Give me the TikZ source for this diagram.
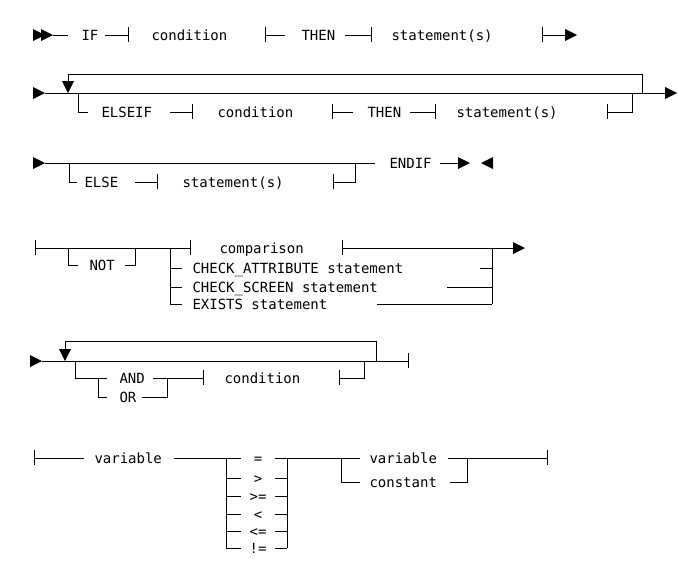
\documentclass[tikz,border=0pt]{standalone}
\usepackage{fontspec}
\newfontfamily\railfont{DejaVu Sans Mono}

\begin{document}
\begin{tikzpicture}[
  x=0.5pt, y=-0.5pt, line width=0.5pt,
  word/.style={anchor=base west, inner sep=0pt, font=\railfont\fontsize{7}{8}\selectfont},
  op/.style={word, anchor=base},
  rtip/.pic={\fill (0,-6) -- (12,0) -- (0,6) -- cycle;},
  ltip/.pic={\fill (0,-6) -- (-12,0) -- (0,6) -- cycle;},
  dtip/.pic={\fill (-6,-12) -- (0,0) -- (6,-12) -- cycle;},
  bar/.pic={\draw (0,-8) -- (0,7);}
]
\useasboundingbox (0,0) rectangle (679,568);

% IF ... THEN
\pic at (33,35) {rtip};
\pic at (41,35) {rtip};
\draw (53,35) -- (68,35);
\node[word] (if) at (81,40) {IF};
\draw (105,35) -- (128,35); \pic at (128,35) {bar};
\node[word] (cond1) at (151,40) {condition};
\pic at (265,35) {bar}; \draw (265,35) -- (285,35);
\node[word] (then1) at (301,40) {THEN};
\draw (345,35) -- (371,35); \pic at (371,35) {bar};
\node[word] (stmt1) at (391,40) {statement(s)};
\pic at (542,35) {bar}; \draw (542,35) -- (565,35);
\pic at (565,35) {rtip};

% ELSEIF loop
\pic at (33,93) {rtip};
\draw (45,93) -- (665,93);
\pic at (665,93) {rtip};
\draw (642,93) -- (642,74) -- (68,74) -- (68,82);
\pic at (68,93) {dtip};
\draw (78,93) -- (78,112) -- (88,112);
\node[word] (elseif) at (101,117) {ELSEIF};
\draw (170,112) -- (192,112); \pic at (192,112) {bar};
\node[word] (cond2) at (217,117) {condition};
\pic at (332,112) {bar}; \draw (332,112) -- (353,112);
\node[word] (then2) at (367,117) {THEN};
\draw (410,112) -- (435,112); \pic at (435,112) {bar};
\node[word] (stmt2) at (456,117) {statement(s)};
\pic at (607,112) {bar}; \draw (607,112) -- (632,112) -- (632,93);

% ELSE / ENDIF
\pic at (33,163) {rtip};
\draw (45,163) -- (375,163);
\draw (69,163) -- (69,182) -- (77,182);
\node[word] (else) at (84,187) {ELSE};
\draw (135,182) -- (157,182); \pic at (157,182) {bar};
\node[word] (stmt3) at (182,187) {statement(s)};
\pic at (333,182) {bar}; \draw (333,182) -- (355,182) -- (355,163);
\node[word] (endif) at (389,168) {ENDIF};
\draw (440,163) -- (458,163);
\pic at (458,163) {rtip};
\pic at (493,163) {ltip};

% condition
\pic at (35,248) {bar};
\draw (35,248) -- (190,248); \pic at (190,248) {bar};
\draw (68,248) -- (68,265) -- (78,265);
\node[word] (not) at (89,270) {NOT};
\draw (125,265) -- (135,265) -- (135,248);
\node[word] (comp) at (219,253) {comparison};
\pic at (342,248) {bar}; \draw (342,248) -- (513,248);
\pic at (513,248) {rtip};
\draw (170,248) -- (170,304);
\foreach \y in {268,287,304} \draw (170,\y) -- (182,\y);
\node[word] (chkattr) at (192,273) {CHECK\_ATTRIBUTE statement};
\node[word] (chkscr) at (192,292) {CHECK\_SCREEN statement};
\node[word] (exists) at (192,309) {EXISTS statement};
\draw (492,248) -- (492,304);
\draw (480,268) -- (492,268);
\draw (447,287) -- (492,287);
\draw (377,304) -- (492,304);

% AND / OR loop
\pic at (30,361) {rtip};
\draw (42,361) -- (408,361); \pic at (408,361) {bar};
\draw (376,361) -- (376,341) -- (65,341) -- (65,350);
\pic at (65,361) {dtip};
\draw (75,361) -- (75,378) -- (107,378);
\draw (98,378) -- (98,397) -- (107,397);
\node[word] (and) at (119,383) {AND};
\node[word] (or) at (119,402) {OR};
\draw (153,378) -- (203,378); \pic at (203,378) {bar};
\draw (142,397) -- (167,397) -- (167,378);
\node[word] (cond3) at (224,383) {condition};
\pic at (339,378) {bar}; \draw (339,378) -- (364,378) -- (364,361);

% comparison
\pic at (34,458) {bar};
\draw (34,458) -- (84,458);
\node[word] (var1) at (94,463) {variable};
\draw (174,458) -- (241,458);
\draw (226,458) -- (226,548);
\draw (287,458) -- (287,548);
\foreach \y/\o in {458/=, 478/>, 496/>=, 514/<, 531/<=, 548/!=} {
  \draw (226,\y) -- (241,\y);
  \node[op] at (258,\y+5) {\o};
  \draw (275,\y) -- (287,\y);
}
\draw (287,458) -- (360,458);
\draw (341,458) -- (341,482) -- (360,482);
\node[word] (var2) at (369,463) {variable};
\node[word] (const) at (369,487) {constant};
\draw (448,458) -- (547,458); \pic at (547,458) {bar};
\draw (450,482) -- (467,482) -- (467,458);
\end{tikzpicture}
\end{document}
